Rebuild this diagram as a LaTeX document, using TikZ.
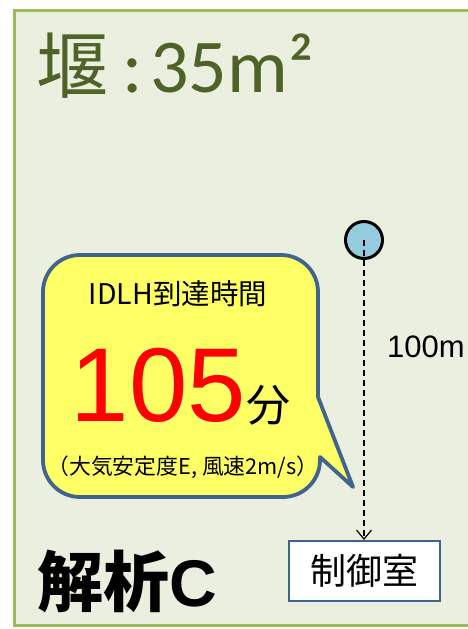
\documentclass[tikz,border=0pt]{standalone}
\usepackage{fontspec}
\setmainfont{Liberation Sans}
\newfontfamily\jp{Noto Sans CJK JP}
\newfontfamily\calfont{Carlito}
\newfontfamily\arialf{Liberation Sans}
\usetikzlibrary{arrows.meta}
\definecolor{framefill}{HTML}{EBEFDF}
\definecolor{frameline}{HTML}{9BBB59}
\definecolor{titlecol}{HTML}{4F6228}
\definecolor{calloutfill}{HTML}{FFFF66}
\definecolor{blueline}{HTML}{41648F}
\definecolor{srcfill}{HTML}{93CDDD}
\tikzset{
  txt/.style={inner sep=0pt, outer sep=0pt},
  srcnode/.style={circle, draw=black, line width=3pt, fill=srcfill, minimum size=37pt, inner sep=0pt},
  roombox/.style={draw=blueline, line width=2pt, fill=white, minimum width=151pt, minimum height=60pt, inner sep=0pt},
  callout/.style={draw=blueline, line width=3.8pt, fill=calloutfill, line join=round},
  distarrow/.style={dashed, dash pattern=on 6pt off 4pt, line width=1.2pt, -{Straight Barb[length=9pt,width=15pt,line width=1.2pt]}}
}
\begin{document}
\begin{tikzpicture}[x=1pt,y=1pt]
\useasboundingbox (0,0) rectangle (468,629);
\fill[white] (0,0) rectangle (468,629);
\draw[frameline, line width=3pt, fill=framefill] (14,3) rectangle (495,618);
% title
\node[txt, anchor=base west, text=titlecol] (title) at (36,536)
  {{\jp\fontsize{72}{80}\selectfont 堰}\hspace{14pt}{\calfont\fontsize{76}{80}\selectfont :\hspace{8pt}35m²}};
% callout
\draw[callout] (80,374) -- (281,374) arc[start angle=90,end angle=0,radius=37]
  -- (318,232) -- (353,142) -- (320,172) -- (320,169)
  arc[start angle=0,end angle=-90,radius=37] -- (80,132)
  arc[start angle=270,end angle=180,radius=37] -- (43,337)
  arc[start angle=180,end angle=90,radius=37] -- cycle;
\node[txt, text=black] (idlh) at (178,335.5) {\jp\fontsize{28.5}{32}\selectfont IDLH到達時間};
\node[txt, anchor=base, text=red] (num) at (158.5,207) {\arialf\fontsize{105}{110}\selectfont 105};
\node[txt, text=black] (fun) at (268,224) {\jp\fontsize{44}{48}\selectfont 分};
\node[txt, text=black] (cond) at (183,161.5) {\jp\fontsize{21.8}{24}\selectfont （大気安定度E, 風速2m/s）};
% source and control room
\node[srcnode] (src) at (364,389) {};
\node[roombox] (room) at (364,58) {\jp\fontsize{36}{40}\selectfont 制御室};
\draw[distarrow] (src.center) -- (room.north);
\node[txt] (dist) at (426,282) {\arialf\fontsize{31}{34}\selectfont 100m};
% analysis label
\node[txt, anchor=base west] (anal) at (37,23) {{\jp\bfseries\fontsize{66}{70}\selectfont 解析}{\arialf\bfseries\fontsize{66}{70}\selectfont C}};
\end{tikzpicture}
\end{document}
